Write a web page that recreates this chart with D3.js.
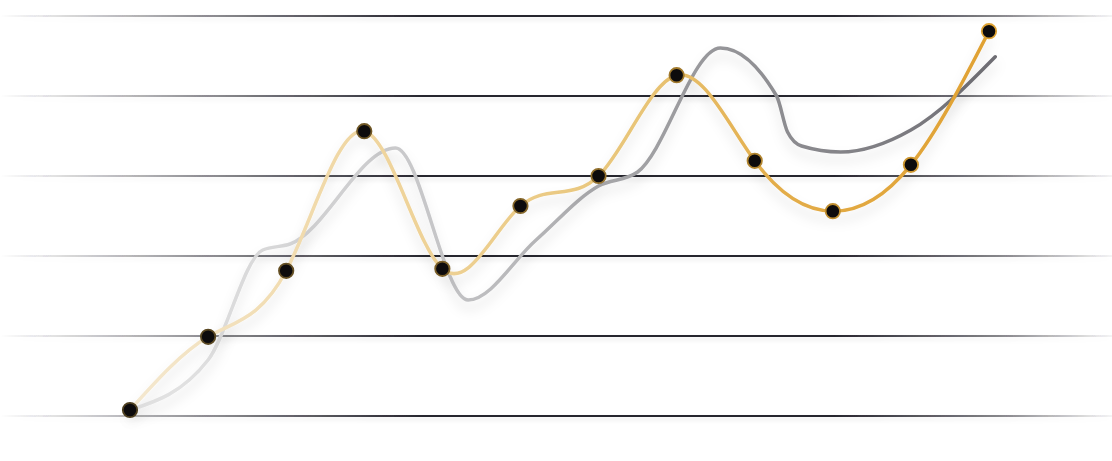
<!DOCTYPE html>
<html>
<head>
<meta charset="utf-8">
<script src="https://cdn.jsdelivr.net/npm/d3@7"></script>
<style>
  html, body { margin: 0; padding: 0; background: #ffffff; }
  svg { display: block; }
</style>
</head>
<body>
<svg id="chart" width="1112" height="461"></svg>
<script>
// ---- data ----
const categories = [0, 1, 2, 3, 4, 5, 6, 7, 8, 9, 10, 11];
const goldValues = [1.5, 19.8, 36.3, 71.2, 36.8, 52.5, 60, 85.2, 63.8, 51.2, 62.8, 96.2];
// grey series sampled at its own (fractional) category positions
const greyPositions = [0, 1.0, 1.7, 2.05, 3.4, 4.33, 5.2, 6.0, 6.5, 7.56, 8.28, 8.42, 8.6, 9.1, 10.0, 11.08];
const greyValues    = [1.5, 14, 41.5, 43, 67, 29, 44, 57.5, 61, 92, 80, 71, 67.5, 66, 71.5, 89.8];
const gridTicks = [0, 20, 40, 60, 80, 100];

// ---- layout ----
const W = 1112, H = 461;
const svg = d3.select("#chart");
const x = d3.scaleLinear().domain([0, 11]).range([130, 989]);
const y = d3.scaleLinear().domain([0, 100]).range([416, 16]);

const defs = svg.append("defs");

// grid gradient (fades at both ends)
const gg = defs.append("linearGradient").attr("id", "gridGrad")
  .attr("gradientUnits", "userSpaceOnUse").attr("x1", 0).attr("x2", W).attr("y1", 0).attr("y2", 0);
[[0, 0], [0.02, 0.06], [0.18, 0.5], [0.38, 1], [0.75, 1], [0.9, 0.55], [1, 0.04]]
  .forEach(([o, a]) => gg.append("stop").attr("offset", o).attr("stop-color", "#26252e").attr("stop-opacity", a));

// gold gradient
const gold = defs.append("linearGradient").attr("id", "goldGrad")
  .attr("gradientUnits", "userSpaceOnUse").attr("x1", 130).attr("x2", 989).attr("y1", 0).attr("y2", 0);
[[0, "#f4e8d0"], [0.3, "#efd49c"], [0.6, "#e8c476"], [0.75, "#e3ad4a"], [1, "#e0a132"]]
  .forEach(([o, c]) => gold.append("stop").attr("offset", o).attr("stop-color", c));

// grey gradient
const grey = defs.append("linearGradient").attr("id", "greyGrad")
  .attr("gradientUnits", "userSpaceOnUse").attr("x1", 130).attr("x2", 995).attr("y1", 0).attr("y2", 0);
[[0, "#e6e6e6"], [0.35, "#c6c6c8"], [0.6, "#a0a0a3"], [1, "#6e6d73"]]
  .forEach(([o, c]) => grey.append("stop").attr("offset", o).attr("stop-color", c));

// dot stroke gradient
const ds = defs.append("linearGradient").attr("id", "dotGrad")
  .attr("gradientUnits", "userSpaceOnUse").attr("x1", 130).attr("x2", 989).attr("y1", 0).attr("y2", 0);
[[0, "#4e3f1f"], [0.5, "#8a6a2a"], [1, "#dea232"]]
  .forEach(([o, c]) => ds.append("stop").attr("offset", o).attr("stop-color", c));

// shadow filters (user space so zero-height lines still render)
const f = defs.append("filter").attr("id", "shadow").attr("filterUnits", "userSpaceOnUse")
  .attr("x", 0).attr("y", 0).attr("width", W).attr("height", H);
f.append("feDropShadow").attr("dx", 0).attr("dy", 8).attr("stdDeviation", 6)
  .attr("flood-color", "#000").attr("flood-opacity", 0.13);
const fg = defs.append("filter").attr("id", "gshadow").attr("filterUnits", "userSpaceOnUse")
  .attr("x", 0).attr("y", 0).attr("width", W).attr("height", H);
fg.append("feDropShadow").attr("dx", 0).attr("dy", 3).attr("stdDeviation", 2)
  .attr("flood-color", "#000").attr("flood-opacity", 0.1);

// ---- grid ----
svg.append("g").selectAll("line").data(gridTicks).join("line")
  .attr("x1", 0).attr("x2", W)
  .attr("y1", d => y(d)).attr("y2", d => y(d))
  .attr("stroke", "url(#gridGrad)").attr("stroke-width", 2)
  .attr("filter", "url(#gshadow)");

// ---- lines ----
const greyLine = d3.line().x(d => x(d[0])).y(d => y(d[1])).curve(d3.curveMonotoneX);
svg.append("path")
  .datum(greyPositions.map((p, i) => [p, greyValues[i]]))
  .attr("d", greyLine)
  .attr("fill", "none").attr("stroke", "url(#greyGrad)").attr("stroke-width", 3.5)
  .attr("stroke-linecap", "round")
  .attr("filter", "url(#shadow)");

const goldLine = d3.line().x((d, i) => x(categories[i])).y(d => y(d)).curve(d3.curveNatural);
svg.append("path")
  .datum(goldValues)
  .attr("d", goldLine)
  .attr("fill", "none").attr("stroke", "url(#goldGrad)").attr("stroke-width", 3.5)
  .attr("stroke-linecap", "round")
  .attr("filter", "url(#shadow)");

// ---- dots ----
svg.append("g").selectAll("circle").data(goldValues).join("circle")
  .attr("cx", (d, i) => x(categories[i]))
  .attr("cy", d => y(d))
  .attr("r", 7.2)
  .attr("fill", "#0d0b0c")
  .attr("stroke", "url(#dotGrad)")
  .attr("stroke-width", 1.8);
</script>
</body>
</html>
